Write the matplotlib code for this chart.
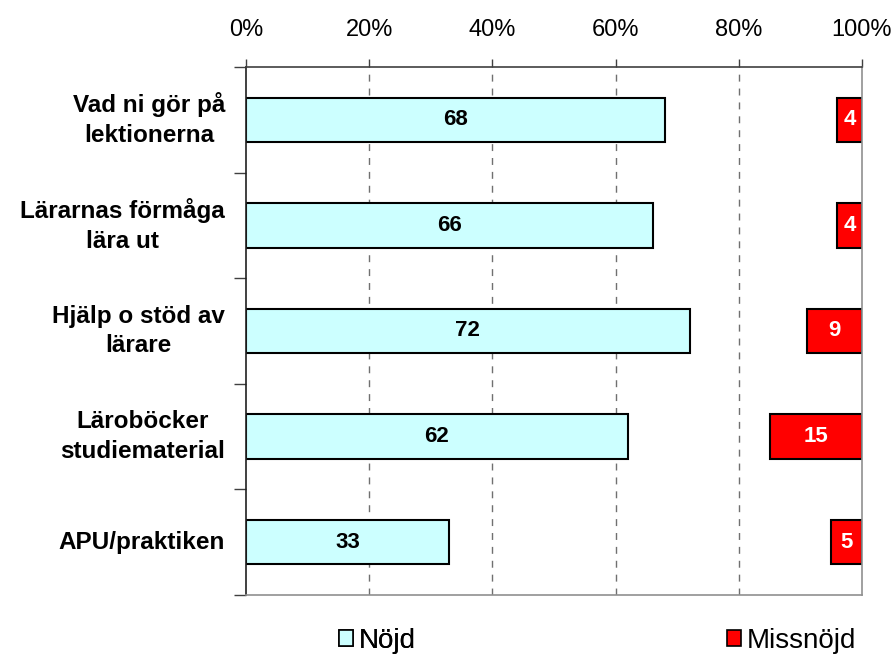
import matplotlib
matplotlib.use("Agg")
import matplotlib.pyplot as plt
from matplotlib.patches import Patch
from matplotlib.transforms import blended_transform_factory

##################################################################
# data
categories = ["Vad ni gör på\nlektionerna", "Lärarnas förmåga\nlära ut",
              "Hjälp o stöd av\nlärare", "Läroböcker\nstudiematerial",
              "APU/praktiken"]
nojd = [68, 66, 72, 62, 33]
missnojd = [4, 4, 9, 15, 5]
xticks = [0, 20, 40, 60, 80, 100]
xticklabels = ["0%", "20%", "40%", "60%", "80%", "100%"]

plt.rcParams['font.family'] = ['Liberation Sans', 'DejaVu Sans']

fig = plt.figure(figsize=(8.94, 6.56), dpi=100)
ax = fig.add_axes([246/894, 1-595/656, 616/894, 528/656])

ypos = list(range(len(categories)))
h = 0.42

# gridlines first so bars cover them
for x in xticks[1:-1]:
  ax.axvline(x, color="#707070", lw=1, ls=(0, (5, 5)), zorder=0)

ax.barh(ypos, nojd, height=h, color="#CCFFFF", edgecolor="black", lw=1.5, zorder=2)
ax.barh(ypos, missnojd, left=[100-m for m in missnojd], height=h,
        color="#FF0000", edgecolor="black", lw=1.5, zorder=2)

for y, v in zip(ypos, nojd):
  ax.text(v/2., y, str(v), ha="center", va="center", fontsize=16,
          fontweight="bold", color="black", zorder=3)
for y, v in zip(ypos, missnojd):
  ax.text(100-v/2., y, str(v), ha="center", va="center", fontsize=16,
          fontweight="bold", color="white", zorder=3)

ax.set_xlim(0, 100)
ax.set_ylim(len(categories)-0.5, -0.5)

ax.xaxis.tick_top()
ax.set_xticks(xticks)
ax.set_xticklabels(xticklabels, fontsize=17)
ax.tick_params(axis="x", direction="out", length=6, width=1, color="#404040", pad=13)

# category labels, no ticks on them; ticks go on the boundaries
ax.set_yticks(ypos)
ax.set_yticklabels([])
ax.set_yticks([y-0.5 for y in ypos] + [len(ypos)-0.5], minor=True)
ax.tick_params(axis="y", which="major", length=0)
ax.tick_params(axis="y", which="minor", direction="out", length=9, width=1, color="#404040")

tr = blended_transform_factory(fig.transFigure, ax.transData)
for y, lab in zip(ypos, categories):
  ax.text(225/894, y, lab, transform=tr, ha="right", va="center",
          multialignment="center", fontsize=17.5, fontweight="bold",
          linespacing=1.38)

ax.spines["top"].set_color("#404040")
ax.spines["left"].set_color("#202020")
ax.spines["right"].set_color("#909090")
ax.spines["bottom"].set_color("#909090")
for s in ax.spines.values():
  s.set_linewidth(1.2)

# legend, two entries spread across the bottom
l1 = fig.legend(handles=[Patch(facecolor="#CCFFFF", edgecolor="black", lw=1.2, label="Nöjd")],
                loc="center left", bbox_to_anchor=(339/894, 1-641/656), frameon=False,
                fontsize=20, handlelength=0.5, handleheight=0.5, handletextpad=0.2,
                borderpad=0, borderaxespad=0)
l2 = fig.legend(handles=[Patch(facecolor="#FF0000", edgecolor="black", lw=1.2, label="Missnöjd")],
                loc="center left", bbox_to_anchor=(727/894, 1-641/656), frameon=False,
                fontsize=20, handlelength=0.5, handleheight=0.5, handletextpad=0.2,
                borderpad=0, borderaxespad=0)
fig.add_artist(l1)

fig.savefig("out.png", dpi=100)
